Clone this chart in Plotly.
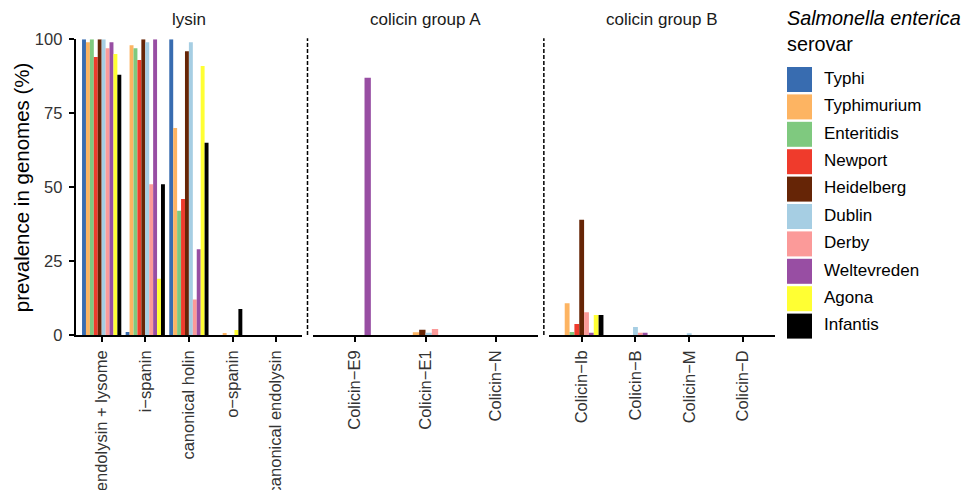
import plotly.graph_objects as go

# ---------------- data ----------------
serovars = ["Typhi", "Typhimurium", "Enteritidis", "Newport", "Heidelberg",
            "Dublin", "Derby", "Weltevreden", "Agona", "Infantis"]
serovar_colors = ["#386cb0", "#fdb462", "#7fc97f", "#ef3b2c", "#662506",
                  "#a6cee3", "#fb9a99", "#984ea3", "#ffff33", "#000000"]

facet_titles = ["lysin", "colicin group A", "colicin group B"]
cats_lysin = ["endolysin + lysome", "i\u2212spanin", "canonical holin",
              "o\u2212spanin", "canonical endolysin"]
cats_group_a = ["Colicin\u2212E9", "Colicin\u2212E1", "Colicin\u2212N"]
cats_group_b = ["Colicin\u2212Ib", "Colicin\u2212B", "Colicin\u2212M", "Colicin\u2212D"]

# prevalence in genomes (%), order: lysin(5) | group A(3) | group B(4)
# None = serovar/gene combination absent from the data
typhi       = [100, 1, 100, None, None,   None, None, None,   0, None, None, None]
typhimurium = [99, 98, 70, 0.7, None,     0, 0.9, None,       10.7, 0, None, None]
enteritidis = [100, 97, 42, None, None,   None, None, None,   1, None, None, None]
newport     = [94, 93, 46, None, None,    None, None, None,   3.7, None, None, None]
heidelberg  = [100, 100, 96, 0, None,     0, 1.8, None,       39, 0, None, None]
dublin      = [100, 99, 99, None, None,   0, 0.8, None,       None, 2.7, 0.6, None]
derby       = [97, 51, 12, 0, None,       0, 2.0, None,       7.7, 0.8, None, None]
weltevreden = [99, 100, 29, None, None,   87, None, None,     0.8, 0.8, None, None]
agona       = [95, 19, 91, 1.7, None,     None, None, None,   6.8, None, None, None]
infantis    = [88, 51, 65, 8.8, None,     None, None, None,   6.8, None, None, None]

y_ticks = [0, 25, 50, 75, 100]

# ---------------- layout helpers ----------------
W, H = 972, 490
PAGE_OFFSET = 8  # default body margin of the html page
FONT = "Liberation Sans, Arial, Helvetica, sans-serif"
values = [typhi, typhimurium, enteritidis, newport, heidelberg,
          dublin, derby, weltevreden, agona, infantis]
facet_cats = [cats_lysin, cats_group_a, cats_group_b]

panels_px = [(75.5, 302.3), (312.7, 538.3), (549.4, 775.3)]
top_px, bottom_px = 39.3, 335.0


def fx(p):
    return (p - PAGE_OFFSET) / W


def fy(p):
    return 1 - (p - PAGE_OFFSET) / H


ydom = [fy(bottom_px), fy(top_px)]
dodge = 0.9
bw = dodge / len(serovars)

fig = go.Figure()

start = 0
for f, cats in enumerate(facet_cats):
    n = len(cats)
    idx = list(range(start, start + n))
    # ggplot-like dodge2: present bars packed and centred on the category
    present = []
    for c in idx:
        present.append([s for s in range(len(serovars)) if values[s][c] is not None])
    ax = "" if f == 0 else str(f + 1)
    for s, name in enumerate(serovars):
        ys, offs = [], []
        for j, c in enumerate(idx):
            v = values[s][c]
            ys.append(v)
            if v is None:
                offs.append(0)
            else:
                k = len(present[j])
                pos = present[j].index(s)
                offs.append((pos - k / 2) * bw)
        fig.add_trace(go.Bar(
            x=cats, y=ys, width=bw, offset=offs,
            marker=dict(color=serovar_colors[s], line=dict(width=0)),
            name=name, showlegend=False,
            xaxis="x" + ax, yaxis="y" + ax,
        ))
    start += n

axis_common = dict(
    showline=True, linecolor="black", linewidth=1.6,
    ticks="outside", ticklen=5, tickwidth=1.5, tickcolor="black",
    showgrid=False, zeroline=False, automargin=False,
    tickfont=dict(family=FONT, size=16.5, color="#333333"),
)

layout = dict(
    width=W, height=H,
    margin=dict(l=0, r=0, t=0, b=0, autoexpand=False),
    paper_bgcolor="white", plot_bgcolor="white",
    barmode="overlay", showlegend=False,
    font=dict(family=FONT, color="black"),
)

for f, cats in enumerate(facet_cats):
    key = "" if f == 0 else str(f + 1)
    x0, x1 = panels_px[f]
    layout["xaxis" + key] = dict(
        axis_common, domain=[fx(x0), fx(x1)], anchor="y" + key,
        type="category", categoryorder="array", categoryarray=cats,
        range=[-0.6, len(cats) - 1 + 0.6], tickangle=-90,
        ticklabelstandoff=2,
    )
    ycfg = dict(
        domain=ydom, anchor="x" + key, range=[0, 100],
        showgrid=False, zeroline=False, automargin=False,
    )
    if f == 0:
        ycfg.update(axis_common)
        ycfg.update(tickvals=y_ticks, ticktext=[str(t) for t in y_ticks],
                    ticklabelstandoff=3)
    else:
        ycfg.update(showline=False, showticklabels=False, ticks="",
                    matches="y")
    layout["yaxis" + key] = ycfg

# legend drawn as its own small panel
leg_left = 787
leg_top = 65.8
leg_step = 27.4
leg_bottom = leg_top + leg_step * len(serovars)
layout["xaxis4"] = dict(domain=[fx(leg_left), 1.0], anchor="y4",
                        range=[0, W + PAGE_OFFSET - leg_left],
                        visible=False, fixedrange=True, automargin=False)
layout["yaxis4"] = dict(domain=[fy(leg_bottom), fy(leg_top)], anchor="x4",
                        range=[len(serovars) - 0.5, -0.5], visible=False,
                        type="category", categoryorder="array",
                        categoryarray=serovars, fixedrange=True,
                        automargin=False)

fig.update_layout(**layout)

fig.add_trace(go.Scatter(
    x=[12.5] * len(serovars), y=serovars, mode="markers",
    marker=dict(symbol="square", size=25, color=serovar_colors,
                line=dict(width=0)),
    xaxis="x4", yaxis="y4", showlegend=False, hoverinfo="skip",
    cliponaxis=False,
))
fig.add_trace(go.Scatter(
    x=[37] * len(serovars), y=serovars, mode="text", text=serovars,
    textposition="middle right",
    textfont=dict(family=FONT, size=17, color="black"),
    xaxis="x4", yaxis="y4", showlegend=False, hoverinfo="skip",
    cliponaxis=False,
))

annotations = []
for f, title in enumerate(facet_titles):
    x0, x1 = panels_px[f]
    annotations.append(dict(
        text=title, x=fx((x0 + x1) / 2), y=fy(19), xref="paper", yref="paper",
        xanchor="center", yanchor="middle", showarrow=False,
        font=dict(family=FONT, size=17, color="#1a1a1a"),
    ))
annotations.append(dict(
    text="prevalence in genomes (%)", x=fx(21), y=(ydom[0] + ydom[1]) / 2,
    xref="paper", yref="paper", textangle=-90, showarrow=False,
    xanchor="center", yanchor="middle",
    font=dict(family=FONT, size=20.5, color="black"),
))
annotations.append(dict(
    text="<i>Salmonella enterica</i><br>serovar", x=fx(785), y=fy(31.3),
    xref="paper", yref="paper", xanchor="left", yanchor="middle",
    align="left", showarrow=False,
    font=dict(family=FONT, size=19.8, color="black"),
))
fig.update_layout(annotations=annotations)

# dashed separators between facets
shapes = []
for f in range(len(panels_px) - 1):
    xm = (panels_px[f][1] + panels_px[f + 1][0]) / 2
    shapes.append(dict(type="line", xref="paper", yref="paper",
                       x0=fx(xm), x1=fx(xm), y0=ydom[0], y1=ydom[1] + 0.002,
                       line=dict(color="black", width=1.5, dash="4px,2px")))
fig.update_layout(shapes=shapes)

fig.write_html("out.html")
